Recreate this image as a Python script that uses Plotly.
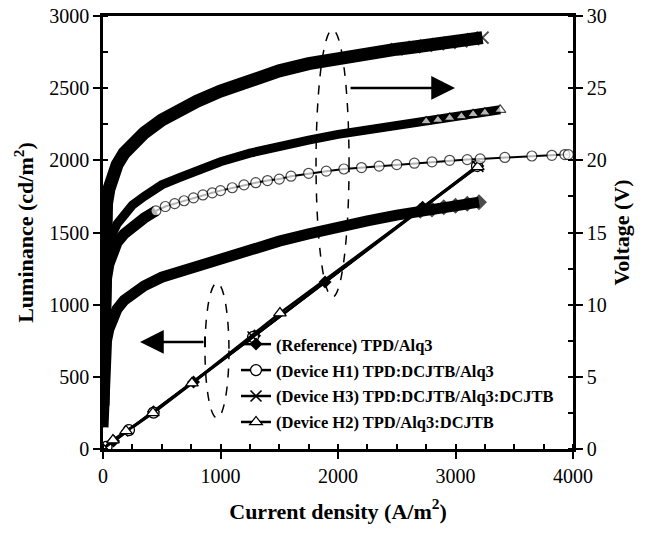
import plotly.graph_objects as go

# ---------------- data ----------------
# Voltage vs current density (right axis)
ref_J = [0, 3, 8, 15, 30, 50, 80, 120, 180, 250, 350, 500, 650, 800, 1000, 1250, 1500, 1750, 2000, 2250, 2500, 2700, 2800, 2900, 3000, 3100, 3200]
ref_V = [1.5, 4.0, 5.5, 6.5, 7.5, 8.3, 9.0, 9.7, 10.3, 10.8, 11.3, 11.9, 12.3, 12.7, 13.2, 13.8, 14.4, 14.9, 15.4, 15.8, 16.2, 16.5, 16.6, 16.75, 16.85, 17.0, 17.1]

h1_J = [0, 3, 8, 15, 30, 50, 80, 120, 180, 250, 350, 450, 530, 610, 690, 770, 850, 930, 1000, 1100, 1200, 1300, 1400, 1500, 1600, 1750, 1900, 2050, 2200, 2350, 2500, 2650, 2800, 2950, 3100, 3210, 3420, 3650, 3820, 3930, 3960]
h1_V = [2.5, 6.0, 8.5, 10.3, 11.8, 12.8, 13.6, 14.3, 14.9, 15.4, 16.0, 16.5, 16.8, 17.0, 17.2, 17.4, 17.6, 17.75, 17.9, 18.1, 18.3, 18.45, 18.6, 18.7, 18.9, 19.1, 19.25, 19.4, 19.5, 19.6, 19.7, 19.8, 19.9, 20.0, 20.05, 20.1, 20.2, 20.3, 20.35, 20.4, 20.4]

h2_J = [0, 3, 8, 15, 30, 50, 80, 120, 180, 250, 350, 500, 650, 800, 1000, 1250, 1500, 1750, 2000, 2250, 2500, 2750, 2850, 2950, 3050, 3150, 3250, 3380]
h2_V = [2.5, 6.5, 9.5, 11.5, 13.0, 14.0, 14.9, 15.6, 16.3, 16.9, 17.5, 18.3, 18.8, 19.3, 19.9, 20.5, 21.0, 21.4, 21.8, 22.1, 22.4, 22.7, 22.8, 22.95, 23.05, 23.2, 23.3, 23.5]

h3_J = [0, 3, 8, 15, 30, 50, 80, 120, 180, 250, 350, 500, 650, 800, 1000, 1250, 1500, 1750, 2000, 2250, 2500, 2650, 2750, 2850, 2950, 3050, 3150, 3230]
h3_V = [3.0, 9.0, 13.0, 15.3, 17.0, 18.0, 18.9, 19.7, 20.5, 21.2, 21.9, 22.8, 23.5, 24.1, 24.8, 25.6, 26.2, 26.7, 27.1, 27.4, 27.7, 27.85, 27.95, 28.05, 28.15, 28.25, 28.4, 28.5]

# Luminance vs current density (left axis)
ref_LJ = [0, 90, 210, 430, 770, 1290, 1890, 2720, 3190]
ref_L = [0, 55, 128, 258, 465, 785, 1157, 1675, 1960]
h1_LJ = [0, 30, 221, 430, 1277, 3183]
h1_L = [0, 15, 131, 252, 776, 1961]
h3_LJ = [0, 1277, 3190]
h3_L = [0, 776, 1958]
h2_LJ = [0, 85, 196, 425, 757, 1506, 3190]
h2_L = [0, 62, 125, 250, 457, 942, 1955]

labels = ["(Reference) TPD/Alq3",
          "(Device H1) TPD:DCJTB/Alq3",
          "(Device H3) TPD:DCJTB/Alq3:DCJTB",
          "(Device H2) TPD/Alq3:DCJTB"]

x_ticks = [0, 1000, 2000, 3000, 4000]
y_ticks = [0, 500, 1000, 1500, 2000, 2500, 3000]
y2_ticks = [0, 5, 10, 15, 20, 25, 30]

FONT = "Liberation Serif"
BLACK = "black"

fig = go.Figure()

# ---------------- voltage bands (right axis) ----------------
def band(J, V, width, k=None):
    xs = J if k is None else J[:k]
    ys = V if k is None else V[:k]
    fig.add_trace(go.Scatter(x=xs, y=ys, yaxis="y2", mode="lines",
                             line=dict(color=BLACK, width=width),
                             showlegend=False, hoverinfo="skip"))

def marks(J, V, symbol, size, first, fill, lw=1.2, linew=2):
    sizes = [0 if i < first else size for i in range(len(J))]
    fig.add_trace(go.Scatter(x=J, y=V, yaxis="y2", mode="lines+markers",
                             line=dict(color=BLACK, width=linew),
                             marker=dict(symbol=symbol, size=sizes, color=fill,
                                         line=dict(color=BLACK, width=lw)),
                             showlegend=False, hoverinfo="skip"))

band(ref_J, ref_V, 11)
marks(ref_J, ref_V, "diamond", 11, 21, BLACK)

band(h1_J, h1_V, 11, 12)
marks(h1_J, h1_V, "circle", 10, 11, "white")

band(h2_J, h2_V, 9)
marks(h2_J, h2_V, "triangle-up", 10, 21, "white", linew=3)

band(h3_J, h3_V, 13)
marks(h3_J, h3_V, "x-thin-open", 12, 20, BLACK, lw=2)

# ---------------- luminance lines (left axis, legend) ----------------
fig.add_trace(go.Scatter(x=ref_LJ, y=ref_L, mode="lines+markers", name=labels[0],
                         legendgroup="a",
                         line=dict(color=BLACK, width=2.5),
                         marker=dict(symbol="diamond", size=10, color=BLACK)))
fig.add_trace(go.Scatter(x=h1_LJ, y=h1_L, mode="lines+markers", name=labels[1],
                         legendgroup="b",
                         line=dict(color=BLACK, width=2.5),
                         marker=dict(symbol="circle", size=11, color="white",
                                     line=dict(color=BLACK, width=1.3))))
fig.add_trace(go.Scatter(x=h3_LJ, y=h3_L, mode="lines+markers", name=labels[2],
                         legendgroup="c",
                         line=dict(color=BLACK, width=2.5),
                         marker=dict(symbol="x-thin-open", size=11, color=BLACK,
                                     line=dict(color=BLACK, width=1.6))))
fig.add_trace(go.Scatter(x=h2_LJ, y=h2_L, mode="lines+markers", name=labels[3],
                         legendgroup="d",
                         line=dict(color=BLACK, width=2.5),
                         marker=dict(symbol="triangle-up", size=11, color="white",
                                     line=dict(color=BLACK, width=1.3))))

# ---------------- decorations ----------------
shapes = [
    dict(type="circle", xref="x", yref="y", x0=868, x1=1072, y0=215, y1=1150,
         line=dict(color=BLACK, width=1.5, dash="dash")),
    dict(type="circle", xref="x", yref="y", x0=1813, x1=2094, y0=1053, y1=2904,
         line=dict(color=BLACK, width=1.5, dash="dash")),
    dict(type="line", xref="x", yref="y", x0=868, x1=868, y0=705, y1=780,
         line=dict(color=BLACK, width=2)),
]
annotations = [
    dict(x=315, y=742, ax=868, ay=742, xref="x", yref="y", axref="x", ayref="y",
         showarrow=True, arrowhead=2, arrowsize=1.9, arrowwidth=2.5, arrowcolor=BLACK, text=""),
    dict(x=2996, y=2502, ax=2094, ay=2502, xref="x", yref="y", axref="x", ayref="y",
         showarrow=True, arrowhead=2, arrowsize=1.9, arrowwidth=2.5, arrowcolor=BLACK, text=""),
]

axis_common = dict(showgrid=False, zeroline=False, showline=True, linecolor=BLACK,
                   linewidth=2.5, ticks="outside", ticklen=7, tickwidth=2,
                   tickcolor=BLACK, automargin=False, ticklabeloverflow="allow",
                   tickfont=dict(family=FONT, size=20, color=BLACK))

fig.update_layout(
    width=645, height=533,
    margin=dict(l=103, r=72, t=16, b=84),
    paper_bgcolor="white", plot_bgcolor="white",
    font=dict(family=FONT, color=BLACK),
    showlegend=True,
    legend=dict(x=0.283, y=0.282, xanchor="left", yanchor="top",
                bgcolor="rgba(0,0,0,0)", tracegroupgap=1.5,
                font=dict(family=FONT, size=16.5, color=BLACK, weight="bold"),
                itemwidth=30),
    xaxis=dict(axis_common, range=[0, 4000], tickvals=x_ticks, mirror=True,
               minor=dict(dtick=250, ticks="inside", ticklen=5, tickwidth=1.5, tickcolor=BLACK),
               title=dict(text="Current density (A/m<sup>2</sup>)",
                          font=dict(family=FONT, size=22, color=BLACK, weight="bold"),
                          standoff=18)),
    yaxis=dict(axis_common, range=[0, 3000], tickvals=y_ticks,
               minor=dict(dtick=250, ticks="inside", ticklen=5, tickwidth=1.5, tickcolor=BLACK),
               title=dict(text="Luminance (cd/m<sup>2</sup>)",
                          font=dict(family=FONT, size=22, color=BLACK, weight="bold"),
                          standoff=10)),
    yaxis2=dict(axis_common, range=[0, 30], tickvals=y2_ticks, overlaying="y", side="right",
                minor=dict(dtick=2.5, ticks="inside", ticklen=5, tickwidth=1.5, tickcolor=BLACK),
                title=dict(text="Voltage (V)",
                           font=dict(family=FONT, size=22, color=BLACK, weight="bold"),
                           standoff=8)),
    shapes=shapes,
    annotations=annotations,
)

fig.write_html("out.html", config={"displayModeBar": False},
               post_script="document.body.style.margin='0';document.body.style.overflow='hidden';")
